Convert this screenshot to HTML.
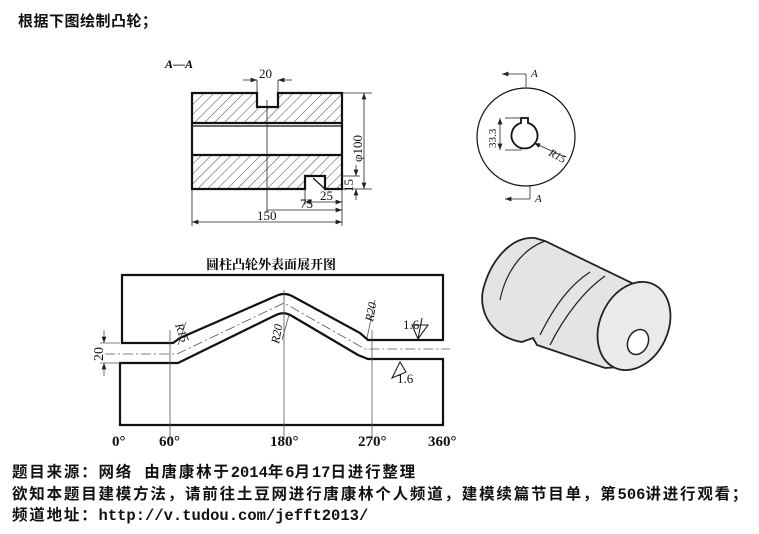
<!DOCTYPE html>
<html><head><meta charset="utf-8"><style>
body{margin:0;width:759px;height:534px;background:#fff;overflow:hidden;position:relative;font-family:"Liberation Serif","Noto Serif CJK SC",serif;}
.t{position:absolute;left:12px;font-family:"Liberation Mono","Noto Sans CJK SC",monospace;font-weight:bold;font-size:15.5px;color:#111;white-space:nowrap;letter-spacing:1.8px}
.t span{letter-spacing:0}
svg{position:absolute;left:0;top:0}
</style></head><body>
<div class="t" style="left:18px;top:10px;font-size:15px;letter-spacing:0.5px">根据下图绘制凸轮；</div>
<div class="t" style="top:460px">题目来源：网络 由唐康林于<span>2014</span>年<span>6</span>月<span>17</span>日进行整理</div>
<div class="t" style="top:482px">欲知本题目建模方法，请前往土豆网进行唐康林个人频道，建模续篇节目单，第<span>506</span>讲进行观看；</div>
<div class="t" style="top:503px">频道地址：<span>http://v.tudou.com/jefft2013/</span></div>
<svg width="759" height="534" viewBox="0 0 759 534" font-family="Liberation Serif, Noto Serif CJK SC, serif">
<defs>
<pattern id="h" width="7" height="7" patternUnits="userSpaceOnUse" patternTransform="rotate(45)"><line x1="0" y1="0" x2="0" y2="7" stroke="#333" stroke-width="0.9"/></pattern>
<marker id="a" markerWidth="8" markerHeight="6" refX="8" refY="3" orient="auto-start-reverse"><path d="M0,0L8,3L0,6z" fill="#222"/></marker>
</defs>
<text x="165" y="68" font-size="12" font-style="italic" font-weight="bold">A—A</text>
<rect x="192" y="93" width="150" height="30" fill="url(#h)"/>
<rect x="192" y="155" width="150" height="34" fill="url(#h)"/>
<rect x="257" y="92" width="21" height="15" fill="#fff"/>
<rect x="305" y="176" width="20" height="14" fill="#fff"/>
<g fill="none" stroke="#111" stroke-width="2.2">
<path d="M192,93H257V107H278V93H342V189H325V176H305V189H192Z"/>
<line x1="192" y1="123" x2="342" y2="123"/>
<line x1="192" y1="126" x2="342" y2="126" stroke-width="1.2"/>
<line x1="192" y1="155" x2="342" y2="155"/>
</g>
<line x1="313" y1="178" x2="325" y2="189" stroke="#111" stroke-width="1.2"/>
<g stroke="#222" stroke-width="0.8" fill="none">
<line x1="267" y1="100" x2="267" y2="212"/>
<line x1="257" y1="80" x2="257" y2="92"/><line x1="278" y1="80" x2="278" y2="92"/>
<line x1="243" y1="80" x2="257" y2="80" marker-end="url(#a)"/><line x1="292" y1="80" x2="278" y2="80" marker-end="url(#a)"/>
<line x1="342" y1="93" x2="372" y2="93"/><line x1="342" y1="189" x2="372" y2="189"/>
<line x1="364" y1="93" x2="364" y2="189" marker-start="url(#a)" marker-end="url(#a)"/>
<line x1="342" y1="176" x2="360" y2="176"/>
<line x1="356" y1="165" x2="356" y2="176" marker-end="url(#a)"/><line x1="356" y1="200" x2="356" y2="189" marker-end="url(#a)"/>
<line x1="192" y1="190" x2="192" y2="226"/><line x1="342" y1="190" x2="342" y2="226"/>
<line x1="192" y1="222" x2="342" y2="222" marker-start="url(#a)" marker-end="url(#a)"/>
<line x1="267" y1="210" x2="342" y2="210" marker-end="url(#a)"/>
<line x1="305" y1="190" x2="305" y2="205"/>
<line x1="305" y1="202" x2="342" y2="202" marker-start="url(#a)" marker-end="url(#a)"/>
</g>
<g font-size="13" fill="#111">
<text x="259" y="78">20</text>
<text x="300" y="208">75</text><text x="320" y="200">25</text>
<text x="257" y="220">150</text>
<text transform="translate(362,162) rotate(-90)">φ100</text>
<text transform="translate(353,192) rotate(-90)">15</text>
</g>
<circle cx="526" cy="137" r="49" fill="none" stroke="#111" stroke-width="1.2"/>
<path d="M521,123 A13,13 0 1 0 528,123 V118 H521 Z" fill="none" stroke="#111" stroke-width="1.8"/>
<g stroke="#222" stroke-width="0.8" fill="none">
<line x1="526" y1="87" x2="526" y2="74"/><line x1="526" y1="74" x2="502" y2="74" marker-end="url(#a)"/>
<line x1="530" y1="186" x2="530" y2="199"/><line x1="530" y1="199" x2="505" y2="199" marker-end="url(#a)"/>
<line x1="505" y1="118" x2="520" y2="118"/><line x1="505" y1="150" x2="522" y2="150"/>
<line x1="500" y1="118" x2="500" y2="150" marker-start="url(#a)" marker-end="url(#a)"/>
<line x1="565" y1="157" x2="534" y2="143" marker-end="url(#a)"/>
</g>
<g font-size="11" font-style="italic" fill="#111">
<text x="531" y="77">A</text><text x="535" y="202">A</text>
<text transform="translate(548,155) rotate(28)">R15</text>
<text transform="translate(496,148) rotate(-90)" font-style="normal">33.3</text>
</g>
<path d="M535,238 C510,236 490,262 483,290 C478,315 495,338 522,342 L533,338 L537,345 L605,368 L640,366 C660,350 672,320 667,300 L545,241 Z" fill="#e4e4e4" stroke="#222" stroke-width="1.8"/>
<path d="M545,241 C520,250 505,275 500,300" fill="none" stroke="#222" stroke-width="1.2"/>
<path d="M590,272 C570,285 555,305 540,335 M605,276 C585,290 565,315 550,345" fill="none" stroke="#222" stroke-width="1.3"/>
<ellipse cx="634" cy="326" rx="34" ry="46" transform="rotate(25 634 326)" fill="#eaeaea" stroke="#222" stroke-width="1.8"/>
<ellipse cx="638" cy="342" rx="10" ry="13" transform="rotate(25 638 342)" fill="#fff" stroke="#222" stroke-width="1.5"/>
<text x="271" y="269" font-size="13" text-anchor="middle" font-family="Noto Serif CJK SC, serif" font-weight="bold">圆柱凸轮外表面展开图</text>
<g fill="none" stroke="#111" stroke-width="2.2">
<path d="M122,343 V275 H443 V340 H368 L360,333 L292,296 Q284,292 276,296 L180,338 L173,343 Z"/>
<path d="M120,363 H178 L276,315 Q284,311 292,316 L358,355 L368,359 H443 V425 H120 Z"/>
</g>
<g fill="none" stroke="#555" stroke-width="0.8">
<path d="M105,354 H177 L284,303 L365,349 H450" stroke-dasharray="10,3,2,3"/>
<line x1="170" y1="330" x2="170" y2="440"/>
<line x1="284" y1="290" x2="284" y2="440"/>
<line x1="372" y1="330" x2="372" y2="440"/>
<line x1="104" y1="330" x2="104" y2="343" marker-end="url(#a)"/>
<line x1="104" y1="376" x2="104" y2="363" marker-end="url(#a)"/>
<line x1="100" y1="343" x2="120" y2="343"/><line x1="100" y1="363" x2="120" y2="363"/>
<line x1="178" y1="345" x2="186" y2="322"/>
<line x1="282" y1="340" x2="289" y2="315"/>
<line x1="375" y1="300" x2="367" y2="338"/>
<path d="M412,325 L418,339 L428,325 Z M422,318 L418,339" stroke-width="1.1" stroke="#222"/>
<path d="M392,378 L400,362 L406,372 Z" stroke-width="1.1" stroke="#222"/>
</g>
<g font-size="14" fill="#111">
<text transform="translate(103,361) rotate(-90)">20</text>
<text transform="translate(175,325) rotate(70)" font-style="italic" font-size="12">R15</text>
<text transform="translate(279,344) rotate(-80)" font-style="italic" font-size="12">R20</text>
<text transform="translate(373,322) rotate(-80)" font-style="italic" font-size="12">R20</text>
<text x="403" y="329" font-size="13">1.6</text>
<text x="397" y="383" font-size="13">1.6</text>
<g font-weight="bold" font-size="15">
<text x="112" y="446">0°</text>
<text x="159" y="446">60°</text>
<text x="270" y="446">180°</text>
<text x="358" y="446">270°</text>
<text x="428" y="446">360°</text>
</g>
</g>
</svg>
</body></html>
